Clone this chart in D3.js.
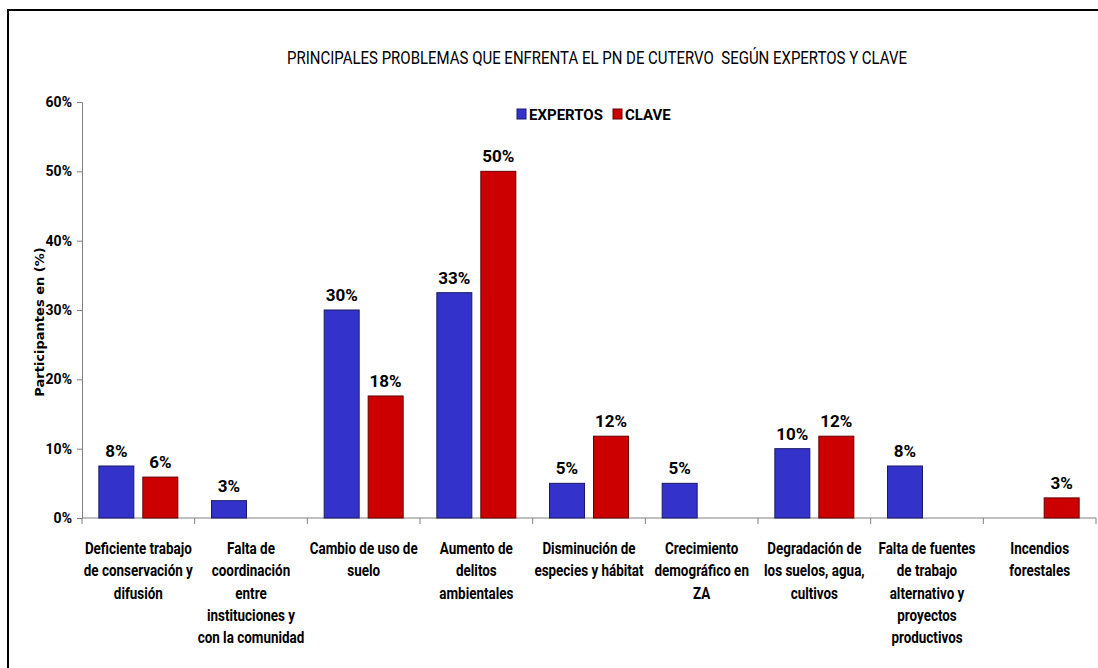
<!DOCTYPE html>
<html lang="es">
<head>
<meta charset="utf-8">
<title>Principales problemas PN de Cutervo</title>
<script src="https://d3js.org/d3.v7.min.js"></script>
<style>
  body { margin: 0; background: #fff; }
  text { font-family: "Liberation Sans Narrow", "Arial Narrow", Roboto, sans-serif; fill: #000; }
</style>
</head>
<body>
<script>
// data
var categories = [
  ["Deficiente trabajo", "de conservación y", "difusión"],
  ["Falta de", "coordinación", "entre", "instituciones y", "con la comunidad"],
  ["Cambio de uso de", "suelo"],
  ["Aumento de", "delitos", "ambientales"],
  ["Disminución de", "especies y hábitat"],
  ["Crecimiento", "demográfico en", "ZA"],
  ["Degradación de", "los suelos, agua,", "cultivos"],
  ["Falta de fuentes", "de trabajo", "alternativo y", "proyectos", "productivos"],
  ["Incendios", "forestales"]
];
var series = ["EXPERTOS", "CLAVE"];
var expertos = [7.5, 2.5, 30, 32.5, 5, 5, 10, 7.5, null];
var clave = [5.9, null, 17.6, 50, 11.8, null, 11.8, null, 2.9];
var yTicks = [0, 10, 20, 30, 40, 50, 60];
var colors = ["#3333cc", "#cc0000"];
var strokes = ["#1a1a66", "#660000"];

var W = 1098, H = 668;
var svg = d3.select("body").append("svg").attr("width", W).attr("height", H);

// outer frame (runs off the picture on right and bottom)
svg.append("rect").attr("x", 8).attr("y", 10).attr("width", W + 10).attr("height", H + 10)
  .attr("fill", "none").attr("stroke", "#000").attr("stroke-width", 2);

var x = d3.scaleBand().domain(d3.range(categories.length)).range([82, 1096]);
var xs = d3.scaleBand().domain(series).range([0, x.bandwidth()]).paddingInner(0.2045).paddingOuter(0.383);
var y = d3.scaleLinear().domain([0, 60]).range([518, 102]);

svg.append("text").attr("x", 597).attr("y", 64).attr("text-anchor", "middle")
  .style("font-size", "19px")
  .attr("textLength", 620).attr("lengthAdjust", "spacingAndGlyphs")
  .attr("xml:space", "preserve")
  .text("PRINCIPALES PROBLEMAS QUE ENFRENTA EL PN DE CUTERVO  SEGÚN EXPERTOS Y CLAVE");

// y axis
var yAxis = svg.append("g").attr("transform", "translate(82,0)")
  .call(d3.axisLeft(y).tickValues(yTicks).tickSize(5).tickFormat(function(d) { return d + "%"; }));
yAxis.select(".domain").attr("stroke", "#808080");
yAxis.selectAll(".tick line").attr("stroke", "#808080");
yAxis.selectAll(".tick text").attr("x", -10).style("font-size", "14px").style("font-weight", "bold")
  .style("font-family", "'Liberation Sans Narrow', 'Arial Narrow', Roboto, sans-serif");

svg.append("text").attr("transform", "translate(44,322) rotate(-90)").attr("text-anchor", "middle")
  .style("font-family", "'DejaVu Sans', Verdana, sans-serif").style("font-weight", "bold").style("font-size", "13px")
  .text("Participantes en (%)");

// x axis line + category ticks
svg.append("line").attr("x1", 82).attr("x2", 1096).attr("y1", y(0)).attr("y2", y(0)).attr("stroke", "#808080");
svg.selectAll(".xtick").data(d3.range(categories.length + 1)).enter().append("line")
  .attr("x1", function(i) { return 82 + i * x.step(); })
  .attr("x2", function(i) { return 82 + i * x.step(); })
  .attr("y1", y(0)).attr("y2", y(0) + 6).attr("stroke", "#808080");

// category labels, squeezed to look like the condensed original font
var lbl = svg.selectAll(".xlab").data(categories).enter().append("text")
  .attr("text-anchor", "middle").style("font-size", "16px").style("font-weight", "bold")
  .attr("transform", function(d, i) { return "translate(" + (x(i) + x.bandwidth() / 2) + ",554) scale(0.84,1)"; });
lbl.selectAll("tspan").data(function(d) { return d; }).enter().append("tspan")
  .attr("x", 0).attr("y", function(d, j) { return j * 22.3; }).text(function(d) { return d; });

// bars
var vals = [expertos, clave];
series.forEach(function(s, k) {
  var data = vals[k].map(function(v, i) { return { i: i, v: v }; }).filter(function(d) { return d.v != null; });
  svg.selectAll(".bar" + k).data(data).enter().append("rect")
    .attr("x", function(d) { return x(d.i) + xs(s); })
    .attr("width", xs.bandwidth())
    .attr("y", function(d) { return y(d.v); })
    .attr("height", function(d) { return y(0) - y(d.v); })
    .attr("fill", colors[k]).attr("stroke", strokes[k]).attr("stroke-width", 1);
  svg.selectAll(".val" + k).data(data).enter().append("text")
    .attr("x", function(d) { return x(d.i) + xs(s) + xs.bandwidth() / 2; })
    .attr("y", function(d) { return y(d.v) - 9; })
    .attr("text-anchor", "middle").style("font-size", "17px").style("font-weight", "bold")
    .text(function(d) { return Math.round(d.v) + "%"; });
});

// legend
var legX = [517, 613];
series.forEach(function(s, k) {
  svg.append("rect").attr("x", legX[k]).attr("y", 109).attr("width", 9).attr("height", 10)
    .attr("fill", colors[k]).attr("stroke", strokes[k]);
  svg.append("text").attr("x", legX[k] + 12).attr("y", 120).style("font-size", "15px").style("font-weight", "bold")
    .text(s);
});
</script>
</body>
</html>
